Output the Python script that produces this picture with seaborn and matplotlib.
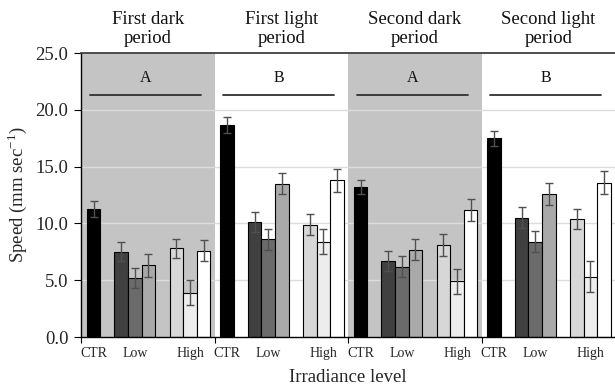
import numpy as np
import pandas as pd
import matplotlib
matplotlib.use("Agg")
import matplotlib.pyplot as plt
import seaborn as sns

# ---- data ----
periods = ["First dark\nperiod", "First light\nperiod", "Second dark\nperiod", "Second light\nperiod"]
period_letters = ["A", "B", "A", "B"]
conditions = ["CTR", "L1", "L2", "L3", "H1", "H2", "H3"]
group_labels = ["CTR", "Low", "High"]

speed_first_dark = [11.3, 7.5, 5.2, 6.3, 7.8, 3.9, 7.6]
speed_first_light = [18.7, 10.1, 8.6, 13.5, 9.9, 8.4, 13.8]
speed_second_dark = [13.2, 6.7, 6.2, 7.7, 8.1, 4.9, 11.2]
speed_second_light = [17.5, 10.5, 8.4, 12.6, 10.4, 5.3, 13.6]

err_first_dark = [0.7, 0.85, 0.9, 1.0, 0.85, 1.1, 0.9]
err_first_light = [0.7, 0.9, 0.9, 0.95, 0.9, 1.1, 1.0]
err_second_dark = [0.65, 0.9, 0.9, 0.95, 0.95, 1.1, 0.95]
err_second_light = [0.65, 0.9, 0.9, 0.95, 0.9, 1.35, 1.0]

speeds = [speed_first_dark, speed_first_light, speed_second_dark, speed_second_light]
errs = [err_first_dark, err_first_light, err_second_dark, err_second_light]

# ---- styling / layout ----
sns.set_theme(style="white")
plt.rcParams["font.family"] = ["Liberation Serif", "DejaVu Serif"]
plt.rcParams["mathtext.fontset"] = "custom"
plt.rcParams["mathtext.rm"] = "Liberation Serif"

palette = {"CTR": "#000000", "L1": "#404040", "L2": "#6b6b6b", "L3": "#a9a9a9",
           "H1": "#d7d7d7", "H2": "#ededed", "H3": "#ffffff"}
panel_w = 9.8
offsets = [0.92, 2.95, 3.95, 4.95, 7.0, 8.0, 9.0]
label_offsets = [0.92, 3.95, 8.0]

rows = []
for p in range(len(periods)):
    for c, cond in enumerate(conditions):
        rows.append({"pos": round(p * panel_w + offsets[c], 3), "speed": speeds[p][c],
                     "err": errs[p][c], "cond": cond})
df = pd.DataFrame(rows)

fig = plt.figure(figsize=(6.15, 3.92), dpi=100)
ax = fig.add_axes([81 / 615, 55 / 392, 534 / 615, 284 / 392])

# shaded dark periods
for p in range(len(periods)):
    if p % 2 == 0:
        ax.axvspan(p * panel_w, (p + 1) * panel_w, color="#c4c4c4", zorder=0, lw=0)
for yv in [5, 10, 15, 20]:
    ax.axhline(yv, color="#dcdcdc", lw=1.0, zorder=0.5)

sns.barplot(data=df, x="pos", y="speed", hue="cond", palette=palette, native_scale=True,
            dodge=False, width=1.0, errorbar=None, edgecolor="black", linewidth=0.8,
            legend=False, ax=ax, zorder=2)

ax.errorbar(df["pos"], df["speed"], yerr=df["err"], fmt="none", ecolor="#505050",
            elinewidth=1.0, capsize=3, capthick=1.0, zorder=3)

# letters and lines
for p, letter in enumerate(period_letters):
    x0 = p * panel_w
    ax.plot([x0 + 0.66, x0 + 8.8], [21.3, 21.3], color="#303030", lw=1.3, zorder=3)
    ax.text(x0 + 4.73, 22.8, letter, ha="center", va="center", fontsize=11.5, color="#111111")
    fig.text((81 + (p + 0.5) * 133.5) / 615, 0.927, periods[p], ha="center", va="center",
             fontsize=13.5, linespacing=1.15, color="#111111")

ax.set_xlim(0, 4 * panel_w)
ax.set_ylim(0, 25)
ax.set_yticks([0, 5, 10, 15, 20, 25])
ax.set_yticklabels([f"{v:.1f}" for v in [0, 5, 10, 15, 20, 25]], fontsize=13.5)

ax.set_xticks([p * panel_w for p in range(4)])
ax.set_xticklabels([])
minor_pos = [p * panel_w + o for p in range(4) for o in label_offsets]
ax.set_xticks(minor_pos, minor=True)
ax.set_xticklabels(group_labels * 4, minor=True, fontsize=10)
ax.tick_params(axis="x", which="major", direction="out", length=4, width=0.8, color="black", bottom=True)
ax.tick_params(axis="x", which="minor", length=0, pad=7, bottom=True)
ax.tick_params(axis="y", direction="out", length=5, width=0.8, color="black", left=True, pad=4)

ax.set_xlabel("Irradiance level", fontsize=13.5, labelpad=7)
ax.set_ylabel("Speed (mm sec$^{-1}$)", fontsize=13.5, labelpad=5)

for s in ["left", "bottom"]:
    ax.spines[s].set_color("black")
    ax.spines[s].set_linewidth(1.0)
ax.spines["top"].set_color("#404040")
ax.spines["top"].set_linewidth(1.3)
ax.spines["right"].set_visible(False)
ax.grid(False)

fig.savefig("out.png", dpi=100)
